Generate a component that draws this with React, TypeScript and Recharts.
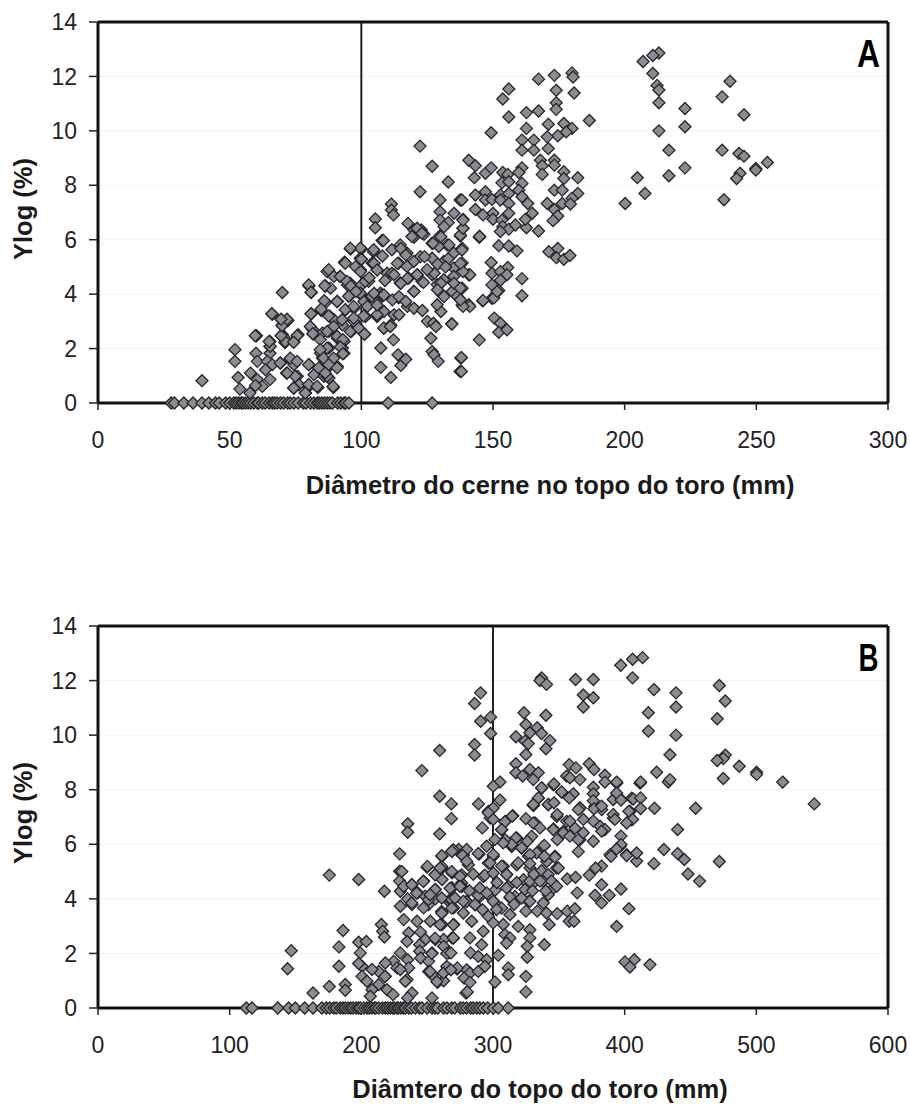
import React from "react";
import { ScatterChart, Scatter, XAxis, YAxis, CartesianGrid, ReferenceLine } from "recharts";

type P = [number, number];

const xTicksA = [0, 50, 100, 150, 200, 250, 300];
const xTicksB = [0, 100, 200, 300, 400, 500, 600];
const yTicks = [0, 2, 4, 6, 8, 10, 12, 14];

const aZeroX = [27.8,29,32.6,36.1,39.5,42.1,44.6,46,48.5,50,51.6,52.5,53.5,54.5,55,56,57,58,59.2,60.5,61,62.4,63.5,65,66.2,67,68,69.3,70.5,72,73,74.4,76,78,79,80.7,82,83.3,84,85,86,87,88,89,91,92.2,93.5,94,95.3,110.2,126.9];

const aFar: P[] = [[213,12.86],[210.7,12.77],[207,12.55],[210.7,12.11],[212.3,11.67],[213,11.5],[213,11.03],[213,10],[216.8,9.29],[216.8,8.35],[222.9,10.82],[222.9,10.15],[222.9,8.64],[204.8,8.28],[207.7,7.7],[200.2,7.33],[240,11.82],[237,11.25],[245.3,10.59],[237,9.29],[237.7,7.47],[243.4,9.17],[245.3,9.07],[243.8,8.44],[242.5,8.25],[249.8,8.62],[249.8,8.56],[254.2,8.84],[186.6,10.38]];

const aUpper: P[] = [[180,12.13],[180.4,11.98],[173.3,12.04],[167.3,11.9],[180.8,11.39],[174,11.49],[156,11.54],[153.7,11.17],[174,11.03],[174,10.79],[156,10.51],[162.7,10.67],[167.3,10.73],[149.3,9.93],[162.7,10.09],[171,10.24],[176.9,10.27],[180,10.09],[177.8,9.96],[174.6,9.82],[170.6,9.78],[165.5,9.66],[161,9.66],[161,9.29],[165.5,9.29],[171,9.35],[168,8.92],[173.3,8.92],[173.3,8.74],[168.7,8.72],[168.7,8.4],[176.9,8.5],[176.9,8.25],[182.2,8.28],[173.3,7.82],[176.3,7.82],[182.2,7.7],[180,7.52],[170.6,7.33],[176.3,7.33],[179.4,7.31],[173.3,7.11],[174.6,6.87],[172.8,6.7],[167.3,6.32],[162.7,6.44],[161,8.64],[159.8,8.47],[161,8.07],[159.8,7.82],[161,7.58],[163.2,7.33],[164.9,6.97],[162.3,6.75]];

const aMid: P[] = [[140.8,8.92],[143.3,8.72],[147.1,8.44],[149.3,8.64],[153.7,8.47],[155.6,8.4],[142.9,8.28],[153.4,8.09],[156,8.13],[143.3,7.64],[147.1,7.76],[152.8,7.64],[156,7.7],[138.2,7.46],[147.1,7.46],[149.6,7.48],[152.8,7.46],[156,7.33],[143.3,7.11],[146.2,6.91],[150,6.97],[156,6.97],[150,6.75],[153.4,6.72],[153.7,6.48],[156,6.39],[152.8,6.3],[158.5,6.54],[144.8,6.09],[152.2,5.78],[156,5.77],[159.1,5.59],[171.2,5.56],[174.6,5.68],[174.1,5.34],[176.9,5.28],[179.2,5.42],[149.3,5.16],[155.6,4.98],[149.6,4.77],[152.8,4.83],[155.3,4.71],[161,4.57],[152.8,4.51],[149.6,4.34],[152.2,4.13],[161,3.94],[146.1,3.75],[149.6,3.85],[150.5,3.12],[152.8,2.93],[152.2,2.6],[155.3,2.69],[144.8,2.32],[138,1.67],[138,1.16],[134.4,2.9],[141.2,3.55],[138.6,3.55],[141.2,4.71],[138.6,4.83],[137.6,5.13],[137.6,4.22],[137.6,3.79],[138.2,5.62],[137.6,6.17],[138.6,6.42],[138.6,6.72],[144.9,6.12],[146.2,3.77],[150.3,3.86],[151.6,4.1]];

const aCore: P[] = [[122.3,9.44],[126.9,8.7],[133,8.12],[122.3,7.76],[129.9,7.46],[137.5,7.46],[111.4,7.31],[111.4,7.09],[112.2,6.91],[105.3,6.76],[105.3,6.44],[108.4,5.97],[117.7,6.6],[120,6.36],[122.8,6.36],[120,6.09],[123.8,6.2],[129.9,7.03],[135.2,6.97],[129.9,6.72],[133,6.63],[131.4,6.48],[138.6,6.75],[138.6,6.42],[144.9,6.12],[137.6,6.14],[129.8,6.14],[121.2,6.42],[123,6.24],[119.2,6.12],[126.9,5.87],[114.8,5.81],[117.3,5.51],[111.6,5.63],[104.7,5.63],[99.6,5.69],[95.8,5.69],[99.6,5.32],[104.7,5.14],[132.6,5.81],[135.1,5.51],[138.3,5.69],[129.4,5.75],[126.9,5.32],[122.4,5.38],[119.9,5.2],[111.6,4.77],[114.8,4.41],[118,4.59],[121.2,4.71],[123,4.47],[114.2,5.14],[117.3,5.02],[126.9,4.71],[131.3,5.2],[135.1,4.96],[138.3,5.14],[140.8,4.71],[128.8,4.35],[131.3,4.53],[135.1,4.65],[138.3,4.22],[130.7,3.98],[134.5,4.1],[137,3.86],[140.8,3.61],[128.8,3.61],[138.3,3.61],[119.9,4.1],[114.2,3.86],[107.8,3.98],[99.6,4.04],[95.2,3.92],[104,3.92],[99.6,4.9],[93.9,5.14],[94.5,4.47],[101.5,4.47],[100,5.28],[104.8,5.13],[97.8,5.01],[99.7,4.83],[106,4.89],[113.7,5.13],[115,5.68],[116.9,5.44],[112.4,4.71],[117.5,4.58],[115,4.4],[121.2,4.71],[123.6,4.43],[120,4.1],[124,5.38],[127.2,5.87],[130.2,6.11],[133.3,5.81],[127.7,4.77],[130.2,4.4],[135.2,4.4],[128.9,4.16],[131.4,3.91],[136.5,3.91],[104.8,4.03],[108.6,3.97],[111.8,3.79],[114.3,3.91],[116.9,3.73],[102.3,3.55],[106,3.6],[109,4.5],[125,4.9],[103,4.6],[133,5.3],[129,5.1],[132,5],[108,5.4],[96,4.3],[98,4.1]];

const aLow: P[] = [[95.9,5.66],[100,5.66],[104.6,5.56],[100,5.28],[93.7,5.16],[87,4.83],[87.6,4.9],[91.9,4.65],[89.6,4.65],[70,4.06],[80.1,4.3],[81,4.06],[86.4,4.3],[88.3,4.22],[66.2,3.26],[69.7,3.06],[72.1,3.03],[81,3.28],[86.4,3.69],[84.8,3.4],[88.1,3.18],[90.9,3.73],[94.7,4.34],[95.9,3.97],[100,4.34],[100,3.97],[101.6,3.73],[94,3.42],[97.2,3.48],[89.6,3.06],[92.8,2.87],[97.2,3],[96.2,2.63],[99.5,2.71],[101.3,2.53],[90.9,2.38],[93.4,2.26],[81.4,2.71],[81.7,2.53],[87.7,2.63],[85.2,2.57],[70,2.87],[70,2.51],[70.6,2.42],[71,2.22],[74.4,2.26],[76,2.51],[60.2,2.47],[65.3,2.26],[65.3,2.08],[52,1.96],[52,1.53],[60,1.83],[60.5,1.53],[65.3,1.83],[64.3,1.53],[69.3,1.47],[73.1,1.59],[74.4,1.41],[66.2,1.41],[63.6,1.22],[57.9,1.1],[53.2,0.94],[39.5,0.82],[65.3,0.86],[60.5,0.86],[62.4,0.61],[59.8,0.64],[53.9,0.51],[57.7,0.37],[71.6,1.1],[75.7,0.98],[76.3,0.67],[74.4,0.55],[80.1,0.61],[78.8,0.37],[83.5,0.57],[80.1,1.41],[82,1.04],[87.7,1.34],[84.5,1.83],[87.7,2.02],[85.2,1.65],[92.8,2.02],[93.4,1.83],[90.9,1.34],[87.7,0.92],[85.8,0.98],[89.4,0.57],[87.7,1.46],[107.4,2.02],[107.4,1.31],[111.2,0.94],[112.2,2.32],[113.9,1.77],[115,1.38],[116.9,1.61],[108.6,2.75],[111.2,2.87],[106,3.18],[101.6,3.18],[108.6,3.36],[112.4,3.24],[114.3,3.24],[117.5,3.55],[120,3.48],[123.2,3.4],[126.4,2.38],[125.1,3],[127.4,2.93],[128.3,2.81],[130.2,3.36],[134.3,2.91],[126.9,1.89],[127.6,1.77],[129.2,1.53],[137.8,1.65],[137.5,1.16]];

const aDense: P[] = [[107.9,5.97],[93.6,5.17],[104.1,5.14],[92,4.65],[99.6,4.87],[106,4.89],[80,4.34],[80.9,4.07],[86.1,4.31],[95.8,4.4],[102.8,4.47],[107.2,4.04],[109.8,4.77],[90.8,3.73],[95.8,3.98],[100.9,3.73],[107.9,3.92],[85.9,3.76],[84.7,3.45],[80.9,3.28],[87.6,3.2],[93.9,3.43],[97.1,3.55],[100.9,3.2],[106,3.24],[108.5,2.75],[111,2.81],[97.1,3.12],[92.7,3.06],[89.5,2.81],[80.6,2.81],[81.6,2.55],[87,2.63],[95.8,2.63],[99,2.75],[101.2,2.53],[90.8,2.45],[84.4,2.33],[93,2.33],[92,2.06],[87,2.02],[84.4,1.96],[93,1.81],[85.7,1.65],[89.5,1.65],[80,1.41],[87.6,1.41],[90.8,1.29],[83.8,1.29],[87,0.98],[86.3,1.1],[80,0.68],[89.3,0.61],[83.2,0.61],[74.9,0.98],[74.3,0.55],[78.7,0.37],[71.8,1.1],[73,1.65],[75.6,1.53],[69.2,1.47],[65.4,2.08],[65,2.26],[59.7,2.47],[75.6,2.47],[71.1,2.26],[74.3,2.23],[69.5,2.47],[69.9,2.84],[71.8,3.08],[66,3.28],[69.5,3.08]];

const bZeroX = [112.7,117,136.5,144.8,149.9,157,163.3,170,173.4,176,179,181,184,186,187.8,190,192,193.7,196,198,199.2,202,204.3,206,208,210,211,213.2,216,218.2,220,222,224,225,227.1,228,230,232,233.4,236,238,241,244,246,250,253.7,256,258,262.5,265,268.6,271,275.2,277.4,280,283,285,287.6,290,292.6,296,300.2,304,311.6];

const bFar: P[] = [[413.6,12.84],[406,12.78],[397,12.56],[406,12.1],[422.2,11.67],[439,11.55],[439,11.03],[418,10.82],[418,10.15],[439,10],[434.4,9.28],[471.9,11.82],[476.4,11.25],[470.3,10.6],[476.4,9.27],[474.9,9.14],[470.3,9.07],[487,8.86],[500.2,8.64],[500.2,8.56],[474.9,8.41],[520,8.28],[544,7.48],[453.9,7.32],[424.3,8.64],[412.1,8.28],[433.1,8.28],[434.4,8.37],[422.7,7.32],[440.2,6.54],[429.8,5.81],[440.2,5.66],[445.3,5.44],[471.9,5.37],[448.1,4.91],[456.9,4.65],[422.2,5.29],[409.1,5.38],[409.1,5.68],[401.5,5.59],[397.2,4.36],[403.2,3.64],[393.9,2.99],[407.3,1.77],[400.2,1.69],[404,1.5],[419.2,1.59]];

const bUpper: P[] = [[336.9,12.1],[335.7,12],[340.7,11.86],[362.7,12.04],[376.2,12.04],[368.6,11.47],[376.2,11.37],[368.6,11.03],[290.6,11.55],[286,11.16],[290.6,10.51],[298.2,10.66],[298.2,10.06],[286,9.66],[286,9.27],[323.5,10.82],[340.2,10.73],[325,10.39],[333.6,10.27],[328,10.09],[336.9,10.06],[317.4,9.94],[343.2,9.8],[324.3,9.78],[326.8,9.69],[340.2,9.5],[325,9.29]];

const bMid: P[] = [[317.4,8.95],[317.4,8.62],[322.5,8.5],[328,8.74],[334.4,8.62],[330.6,8.37],[357.9,8.92],[363,8.8],[373.1,8.95],[376.7,8.74],[355.9,8.5],[358.4,8.44],[366,8.37],[385,8.53],[385,8.28],[393.9,8.28],[376.2,8.09],[376.2,7.85],[336.9,8.07],[346.3,8.21],[352.1,7.92],[361,7.85],[334.4,7.7],[330.6,7.46],[342,7.46],[346.3,7.52],[357.9,7.7],[366,7.33],[376.2,7.6],[376.7,7.3],[382.5,7.4],[391.3,7.64],[393.9,7.88],[397.2,7.62],[406.5,7.66],[412.1,7.7],[412.1,7.31],[403.2,7.21],[391.3,7.09],[392.6,6.91],[406,6.91],[401.5,6.78],[385,6.54],[382.5,6.48],[376.2,6.85],[368.6,6.91],[364.8,7.27],[358.4,6.85],[348.8,7.09],[353.4,6.42],[345.8,6.54],[348.8,6.17],[358.4,6.3],[364.8,6.17],[368.6,6.42],[376.2,6.11],[397.2,6.3],[397.2,5.99],[393.9,5.83],[389.6,5.56],[364.8,5.73],[382.5,5.2],[377.9,5.13],[373.1,4.87],[356.4,4.73],[362.7,4.79],[382.5,4.52],[364,4.22],[377.4,4.13],[388.3,4.13],[382.5,3.85],[356.4,3.55],[362.2,3.64],[357.9,3.18],[361.5,3.18]];

const bCore: P[] = [[325,6.94],[314.6,7.03],[305.3,8.28],[300.2,8.13],[305.3,7.62],[300.2,7.33],[296.4,7.15],[289,7.48],[291.9,6.6],[300.2,6.91],[309,6.82],[306.5,6.54],[301.5,6.17],[295.2,5.93],[330.6,6.78],[335.7,6.6],[317.4,6.23],[326,6.11],[314.1,5.99],[307.8,6.05],[321.7,5.87],[339,5.96],[328,5.62],[347,5.53],[339,5.56],[319.2,5.32],[328,5.29],[336.9,5.03],[349.6,5.13],[342,4.89],[300.2,5.62],[288.8,5.66],[280,5.81],[277,5.59],[280,5.38],[297.7,5.32],[306.5,5.2],[293.9,4.87],[300.2,4.95],[310.3,4.89],[274.9,4.83],[274.9,4.46],[310.3,4.4],[328,4.65],[335.7,4.65],[344.5,4.65],[348.3,4.46],[321.7,4.03],[328,3.91],[338.2,3.85],[312.9,4.07],[300.2,3.91],[288.8,4.12],[295.2,4.22],[286.3,3.79],[277.4,3.91],[271.1,4.03],[325,3.55],[333.6,3.55],[340.7,3.48],[348.8,3.46],[302.7,3.61],[312.9,3.42],[296.4,3.36],[283.8,3.18],[307.8,3.06],[319.2,2.99],[328,2.87],[342.7,3.06],[300.2,3.12],[292.6,2.81],[282.5,2.57],[309,2.69],[312.9,2.57],[328,2.57],[269.8,2.57],[310.3,2.38],[291.4,2.32],[326,2.26],[339,2.32],[283,2.02],[304,1.93],[288.8,1.89],[326,1.86],[295.2,1.77],[311.6,1.47],[311.6,1.22],[325,1.16],[301.5,0.95],[325,0.59],[272.9,1.47],[282.5,1.28],[288.8,1.34],[278,1.1],[282.5,0.94],[280.5,0.59],[293.9,1.53],[268,1.4],[268,2.02],[285,4.9],[290,4.4],[282,4.3],[292,3.6],[303,4.6],[330,4.3],[318,4.6],[316,3.8],[331,4.9],[340,4.3]];

const bLeft: P[] = [[259.5,9.44],[246,8.7],[259.5,7.76],[268.4,7.48],[268.4,6.94],[259.5,6.38],[235.2,6.75],[235.2,6.44],[229.1,5.65],[229.1,5.01],[229.1,4.65],[229.6,4.28],[249.9,5.16],[261.3,5.56],[268.9,5.75],[274,5.81],[261.3,5.13],[256.2,4.89],[261.3,4.71],[247.3,4.65],[268.9,4.95],[268.9,4.4],[238.5,4.52],[232.2,4.46],[242.8,4.22],[256.2,4.34],[248.6,4.1],[235.2,4],[238.5,3.79],[229.6,3.73],[256.2,4],[266.3,3.91],[251.1,3.79],[247.3,3.67],[270.1,3.67],[261.3,3.48],[232.2,3.24],[242.3,3.18],[252.4,3.18],[236,2.75],[261.3,3.06],[270.1,3.06],[245,2.78],[234.7,2.44],[268.9,2.57],[256.2,2.51],[262.5,2.51],[248.6,2.51],[244.3,2.32],[262.5,2.26],[244.3,2.08],[253.7,2.02],[266.3,2.02],[229.6,2.02],[245,1.83],[235.2,1.77],[251.1,1.71],[224.6,1.71],[218.2,1.65],[227.1,1.47],[236,1.47],[251.1,1.34],[253.7,1.22],[262.5,1.28],[272.7,1.43],[229.6,1.41],[258,0.94],[262.5,1],[234.7,1.04],[233.4,0.98],[238.5,0.55],[235.2,0.37],[253.7,0.37],[219.5,0.67],[224.1,0.49],[218.2,1.16],[213.2,1.34],[208.1,1.41],[200.5,1.53],[200.5,1.16],[204.3,0.98],[213.2,0.86],[208.1,0.67],[206.8,0.43],[175.7,4.87],[198,4.71],[217.5,4.28],[186.1,2.84],[215.2,3.06],[216.2,2.81],[217.5,2.6],[183,2.24],[198,2.41],[203.8,2.44],[199.2,2.02],[146.8,2.1],[144,1.44],[183,1.53],[198,1.63],[175.7,0.79],[163.3,0.55],[187.8,0.86],[187.8,0.65]];

const bDense: P[] = [[296.5,7.2],[297.8,6.96],[315,7.05],[332,6.78],[309.2,6.84],[306.6,6.53],[289.4,5.64],[276.2,5.62],[269.9,5.8],[261,5.19],[250.2,5.19],[256,4.88],[268.6,5],[276.2,4.88],[247.1,4.64],[230.7,5],[238.3,4.52],[268.6,4.4],[256,4.34],[242,4.21],[250.9,3.97],[238.3,3.85],[261,3.54],[276.2,4.58],[280,3.91],[267.4,3.97],[286.4,3.78],[290.2,4.09],[296.5,4.15],[301.6,3.85],[306.6,3.66],[311.7,4.46],[313,4.03],[296.5,5.31],[307.9,5.19],[300.3,5.56],[292.7,4.82],[301.6,4.32],[310.4,4.89],[318,6.23],[309.2,6.17],[314.2,5.92],[321.8,5.86],[329.4,6.29],[338.3,5.92],[333.2,5.68],[347.1,5.56],[340.8,5.37],[348.4,5.13],[318,5.25],[326.9,5.56],[335.7,4.95],[328.1,5.13],[323.1,4.7],[330.7,4.58],[338.3,4.64],[345.9,4.4],[324.3,4.34],[316.7,4.09],[326.9,3.91],[342,4.15],[345.9,8.18],[352.2,7.91],[337,8.06],[334.5,7.69],[330.7,7.42],[342,7.45],[366.1,7.33],[382.6,7.27],[377.5,7.39],[394,8.24],[404.1,7.2],[405.3,7.69],[411.7,8.24],[396.5,7.69],[391.4,6.96],[405.3,6.9],[383.8,6.53],[381.3,6.66],[366.1,6.17],[356,6.84],[348.4,7.02],[345.9,6.56],[353.5,6.47],[362.3,6.59],[396.5,5.92],[388.9,5.62],[401.6,5.62],[252.2,4.15],[261.1,5.58],[268.7,5.74],[277.5,5.61],[259.8,5.13],[267.4,4.39],[276.2,4.45],[281.3,5.25],[261.1,4.03],[268.7,3.97],[280,3.9],[261.1,3.48],[268.7,3.66],[277.5,3.48],[259.8,3.05],[269.9,3.05],[256,2.56],[269.9,2.56],[253.5,2],[264.9,2],[252.2,1.34],[264.9,1.52],[257.3,0.97],[262.3,1.28],[280,1.4],[279.5,0.55],[218,1.16]];

const toRows = (lists: P[][], zeros: number[]) => [
  ...zeros.map((x) => ({ x, y: 0 })),
  ...lists.flat().map(([x, y]) => ({ x, y })),
];
const rowsA = toRows([aLow, aDense, aCore, aMid, aUpper, aFar], aZeroX);
const rowsB = toRows([bLeft, bDense, bCore, bMid, bUpper, bFar], bZeroX);

const Diamond = (props: any) => {
  const { cx, cy } = props;
  const r = 6;
  return (
    <path
      d={`M${cx},${cy - r}L${cx + r},${cy}L${cx},${cy + r}L${cx - r},${cy}Z`}
      fill="#8b8b93"
      stroke="#262626"
      strokeWidth={1.3}
    />
  );
};

const tickStyle = { fontFamily: "Liberation Sans", fontSize: 23, fill: "#222" };
const titleStyle: React.CSSProperties = {
  fontFamily: "Liberation Sans",
  fontSize: 25.5,
  fontWeight: "bold",
  fill: "#1a1a1a",
};
const axisLineStyle = { stroke: "#111", strokeWidth: 3 };

function Panel(props: {
  rows: { x: number; y: number }[];
  xMax: number;
  xTicks: number[];
  guide: number;
  xTitle: string;
  titleX: number;
  letter: string;
  letterWidth: number;
  bottomMargin: number;
}) {
  const { rows, xMax, xTicks, guide, xTitle, titleX, letter, letterWidth, bottomMargin } = props;
  return (
    <div style={{ position: "relative", width: 910, height: 510 }}>
      <ScatterChart width={910} height={510} margin={{ top: 22, right: 22, bottom: bottomMargin, left: 38 }}>
        <CartesianGrid vertical={false} stroke="#f3f3f3" />
        <ReferenceLine x={guide} stroke="#222" strokeWidth={2} />
        <ReferenceLine y={14} stroke="#111" strokeWidth={3} ifOverflow="visible" />
        <ReferenceLine x={xMax} stroke="#111" strokeWidth={3} ifOverflow="visible" />
        <XAxis
          type="number"
          dataKey="x"
          domain={[0, xMax]}
          ticks={xTicks}
          interval={0}
          height={30}
          tick={tickStyle}
          tickSize={7}
          tickMargin={22}
          axisLine={axisLineStyle}
          tickLine={{ stroke: "#222", strokeWidth: 1.5 }}
        />
        <YAxis
          type="number"
          dataKey="y"
          domain={[0, 14]}
          ticks={yTicks}
          interval={0}
          width={60}
          tick={tickStyle}
          tickSize={9}
          tickMargin={12}
          axisLine={axisLineStyle}
          tickLine={{ stroke: "#222", strokeWidth: 1.5 }}
        />
        <Scatter data={rows} shape={Diamond} isAnimationActive={false} />
      </ScatterChart>
      <svg width={910} height={510} style={{ position: "absolute", left: 0, top: 0, pointerEvents: "none" }}>
        <text x={titleX} y={494} textAnchor="middle" style={titleStyle}>
          {xTitle}
        </text>
        <text transform="translate(32,209) rotate(-90)" textAnchor="middle" style={titleStyle}>
          Ylog (%)
        </text>
        <text
          x={868.5}
          y={67}
          textAnchor="middle"
          textLength={letterWidth}
          lengthAdjust="spacingAndGlyphs"
          style={{ fontFamily: "Liberation Sans", fontWeight: "bold", fontSize: 38, fill: "#000" }}
        >
          {letter}
        </text>
      </svg>
    </div>
  );
}

export default function App() {
  return (
    <div style={{ position: "absolute", left: 0, top: 0, width: 910, height: 1104, background: "#fff" }}>
      <Panel rows={rowsA} xMax={300} xTicks={xTicksA} guide={100} xTitle="Diâmetro do cerne no topo do toro (mm)" titleX={550} letter="A" letterWidth={23} bottomMargin={77} />
      <div style={{ position: "absolute", left: 0, top: 604 }}>
        <Panel rows={rowsB} xMax={600} xTicks={xTicksB} guide={300} xTitle="Diâmtero do topo do toro (mm)" titleX={540} letter="B" letterWidth={20} bottomMargin={76} />
      </div>
    </div>
  );
}
